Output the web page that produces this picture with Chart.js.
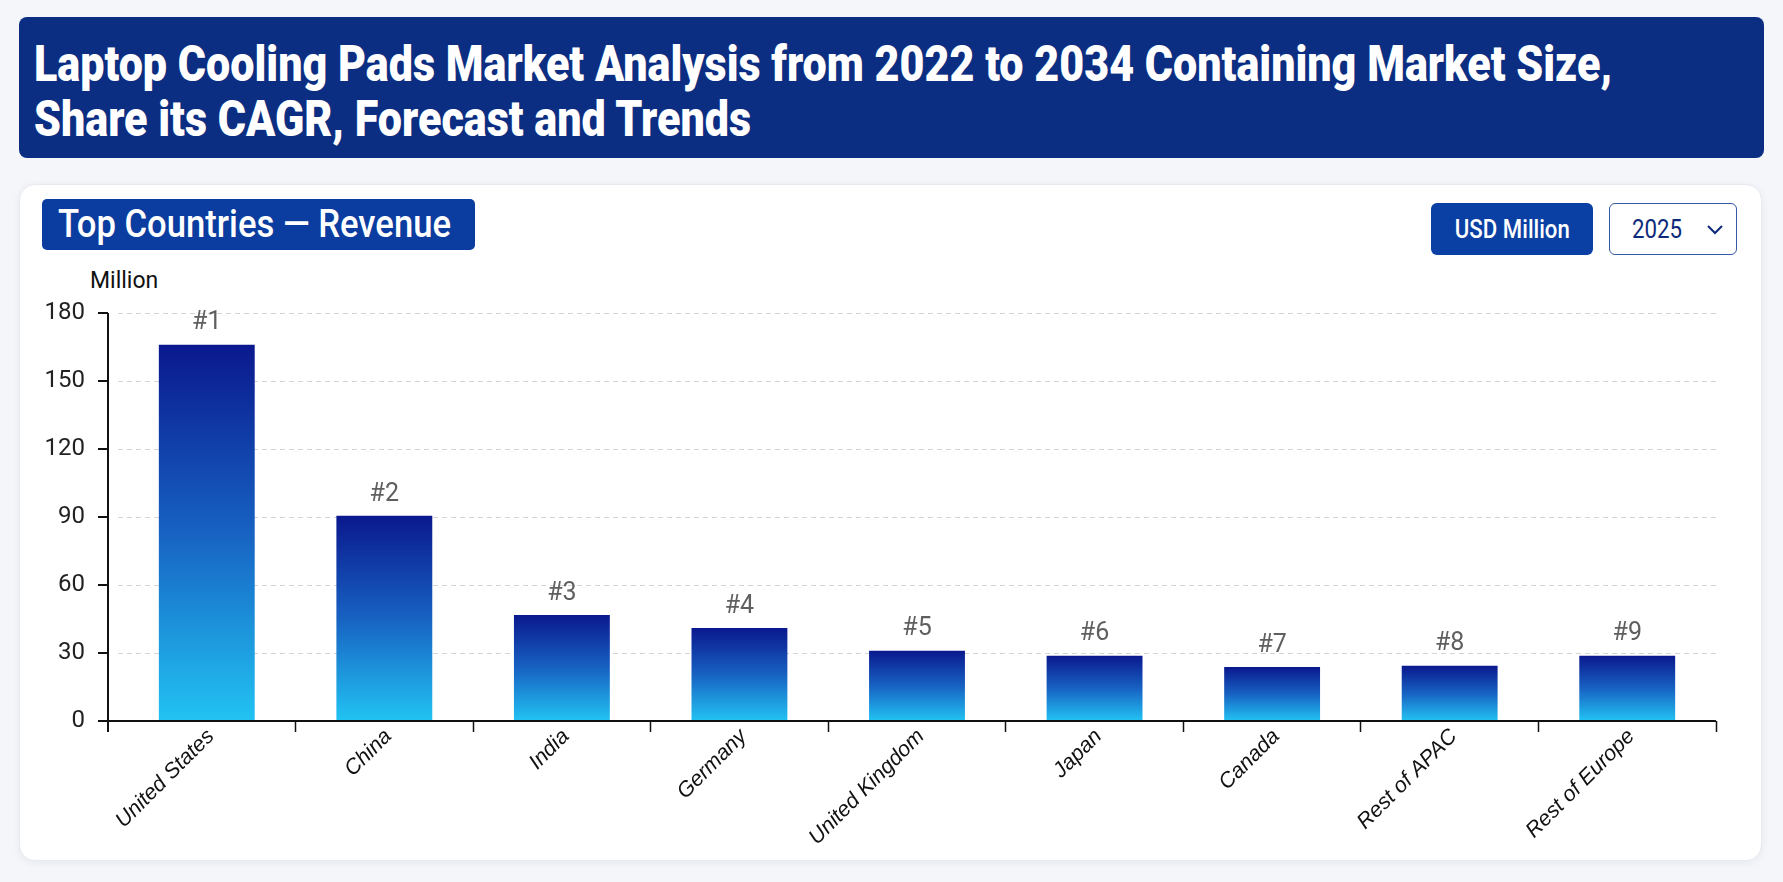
<!DOCTYPE html>
<html lang="en">

<head>
    <title>Laptop Cooling Pads Market</title>
    <meta charset="utf-8">
    <script src="https://cdn.jsdelivr.net/npm/chart.js"></script>
    <style>
        html, body { margin: 0; padding: 0; }
        body {
            width: 1783px; height: 882px; position: relative; overflow: hidden;
            background: #f4f6fa; font-family: Roboto, "Noto Sans", sans-serif;
        }
        .fit { display: inline-block; white-space: nowrap; }
        #header {
            position: absolute; left: 19px; top: 17px; width: 1745px; height: 141px;
            background: #0c2e82; border-radius: 8px; box-sizing: border-box;
            padding: 20px 0 0 15px; color: #fff;
            font-weight: 900; font-size: 50px; line-height: 55px;
        }
        #header .fit { transform-origin: left center; }
        #card {
            position: absolute; left: 19px; top: 184px; width: 1743px; height: 677px;
            background: #fff; border-radius: 16px; border: 1px solid #e8eaf0;
            box-sizing: border-box; box-shadow: 0 2px 8px rgba(20, 30, 60, 0.06);
        }
        #sectionTitle {
            position: absolute; left: 42px; top: 199px; width: 433px; height: 51px;
            background: #0b3c9f; border-radius: 5px; color: #fff;
            font-weight: 500; font-size: 38px; line-height: 51px;
            box-sizing: border-box; padding-left: 16px;
        }
        #sectionTitle .fit { transform-origin: left center; }
        #unitBtn {
            position: absolute; left: 1431px; top: 203px; width: 162px; height: 52px;
            background: #0a3fa3; border-radius: 6px; color: #fff;
            display: flex; align-items: center; justify-content: center;
            font-size: 26px; font-weight: 500;
        }
        #yearSel {
            position: absolute; left: 1609px; top: 203px; width: 128px; height: 52px;
            background: #fff; border: 1.5px solid #3457a6; border-radius: 6px; box-sizing: border-box;
            color: #0d2a7a; font-size: 26px;
        }
        #yearSel .fit { position: absolute; left: 22px; top: 10px; transform-origin: left center; }
        #yearSel svg { position: absolute; left: 96px; top: 20px; }
        #unitLabel {
            position: absolute; left: 90px; top: 269px; font-size: 23px; line-height: 23px; color: #111;
        }
        #chartBox { position: absolute; left: 20px; top: 230px; width: 1740px; height: 625px; }
    </style>
</head>

<body>
    <div id="header">
        <div><span class="fit" data-w="1578">Laptop Cooling Pads Market Analysis from 2022 to 2034 Containing Market Size,</span></div>
        <div><span class="fit" data-scale-from="0">Share its CAGR, Forecast and Trends</span></div>
    </div>

    <div id="card"></div>
    <div id="sectionTitle"><span class="fit" data-w="393">Top Countries — Revenue</span></div>
    <div id="unitBtn"><span class="fit" data-w="115">USD Million</span></div>
    <div id="yearSel">
        <span class="fit" data-w="50">2025</span>
        <svg width="18" height="12" viewBox="0 0 18 12"><polyline points="2,2 9,9 16,2" fill="none" stroke="#0d2a7a" stroke-width="2"/></svg>
    </div>
    <div id="unitLabel">Million</div>

    <div id="chartBox"><canvas id="countryChart"></canvas></div>

    <script>
        // values (USD Million, 2025)
        const countries = ['United States', 'China', 'India', 'Germany', 'United Kingdom', 'Japan', 'Canada', 'Rest of APAC', 'Rest of Europe'];
        const revenue = [166, 90.5, 46.8, 41, 31, 28.8, 23.8, 24.4, 28.8];
        const ranks = ['#1', '#2', '#3', '#4', '#5', '#6', '#7', '#8', '#9'];
        const yTicks = [0, 30, 60, 90, 120, 150, 180];

        // squeeze the html labels to the condensed look of the original
        let headScale = 1;
        document.querySelectorAll('.fit[data-w]').forEach(el => {
            const s = el.dataset.w / el.getBoundingClientRect().width;
            el.style.transform = 'scaleX(' + s + ')';
            if (el.closest('#header')) headScale = s;
        });
        document.querySelectorAll('.fit[data-scale-from]').forEach(el => {
            el.style.transform = 'scaleX(' + headScale + ')';
        });

        const barGradient = (c) => {
            const chart = c.chart;
            if (!chart.chartArea || c.type !== 'data') return '#1560c0';
            const y = chart.scales.y;
            const top = y.getPixelForValue(c.raw);
            const base = y.getPixelForValue(0);
            const g = chart.ctx.createLinearGradient(0, top, 0, base);
            g.addColorStop(0, '#0a188e');
            g.addColorStop(0.5, '#1762c2');
            g.addColorStop(1, '#22c3f3');
            return g;
        };

        // y axis line sits a little left of the plot, like the original
        const axisLines = {
            id: 'axisLines',
            afterDraw(chart) {
                const { ctx, chartArea: a, scales: { y } } = chart;
                const ax = a.left - 10;
                ctx.save();
                ctx.strokeStyle = '#111';
                ctx.lineWidth = 2;
                ctx.beginPath();
                ctx.moveTo(ax, a.top);
                ctx.lineTo(ax, a.bottom + 11);
                ctx.moveTo(ax - 10, a.bottom);
                ctx.lineTo(a.right, a.bottom);
                y.ticks.forEach((t, i) => {
                    const py = y.getPixelForTick(i);
                    ctx.moveTo(ax - 10, py);
                    ctx.lineTo(ax, py);
                });
                ctx.stroke();
                ctx.restore();
            }
        };

        const rankLabels = {
            id: 'rankLabels',
            afterDatasetsDraw(chart) {
                const ctx = chart.ctx;
                ctx.save();
                ctx.font = '25px Roboto';
                ctx.fillStyle = '#5f5f5f';
                ctx.textAlign = 'center';
                ctx.textBaseline = 'bottom';
                chart.getDatasetMeta(0).data.forEach((bar, i) => {
                    ctx.fillText(ranks[i], bar.x, bar.y - 9);
                });
                ctx.restore();
            }
        };

        const ctx = document.getElementById('countryChart').getContext('2d');
        new Chart(ctx, {
            type: 'bar',
            data: {
                labels: countries,
                datasets: [{
                    label: 'Revenue',
                    data: revenue,
                    backgroundColor: barGradient,
                    borderWidth: 0,
                    barPercentage: 0.54,
                    categoryPercentage: 1
                }]
            },
            options: {
                responsive: true,
                maintainAspectRatio: false,
                animation: false,
                layout: { padding: { left: 18, right: 44, top: 83, bottom: 0 } },
                plugins: {
                    legend: { display: false },
                    tooltip: { enabled: false }
                },
                scales: {
                    x: {
                        offset: true,
                        afterFit: (s) => { s.height = 134; },
                        border: { display: false },
                        grid: {
                            display: true,
                            drawOnChartArea: false,
                            tickLength: 11,
                            tickColor: (c) => c.index === 0 ? 'rgba(0,0,0,0)' : '#111',
                            tickWidth: 1.5
                        },
                        ticks: {
                            minRotation: 45,
                            maxRotation: 45,
                            padding: -8,
                            labelOffset: 4,
                            color: '#111',
                            font: { family: 'Liberation Sans', style: 'italic', size: 21.5 }
                        }
                    },
                    y: {
                        min: 0,
                        max: 180,
                        afterFit: (s) => { s.width = 80; },
                        afterBuildTicks: (s) => { s.ticks = yTicks.map(v => ({ value: v })); },
                        border: { display: false, dash: [5, 4] },
                        grid: { color: '#d4d4d4', lineWidth: 1, drawTicks: false },
                        ticks: {
                            padding: 33,
                            color: '#222',
                            font: { family: 'Roboto', size: 24 }
                        }
                    }
                }
            },
            plugins: [axisLines, rankLabels]
        });
    </script>
</body>

</html>
